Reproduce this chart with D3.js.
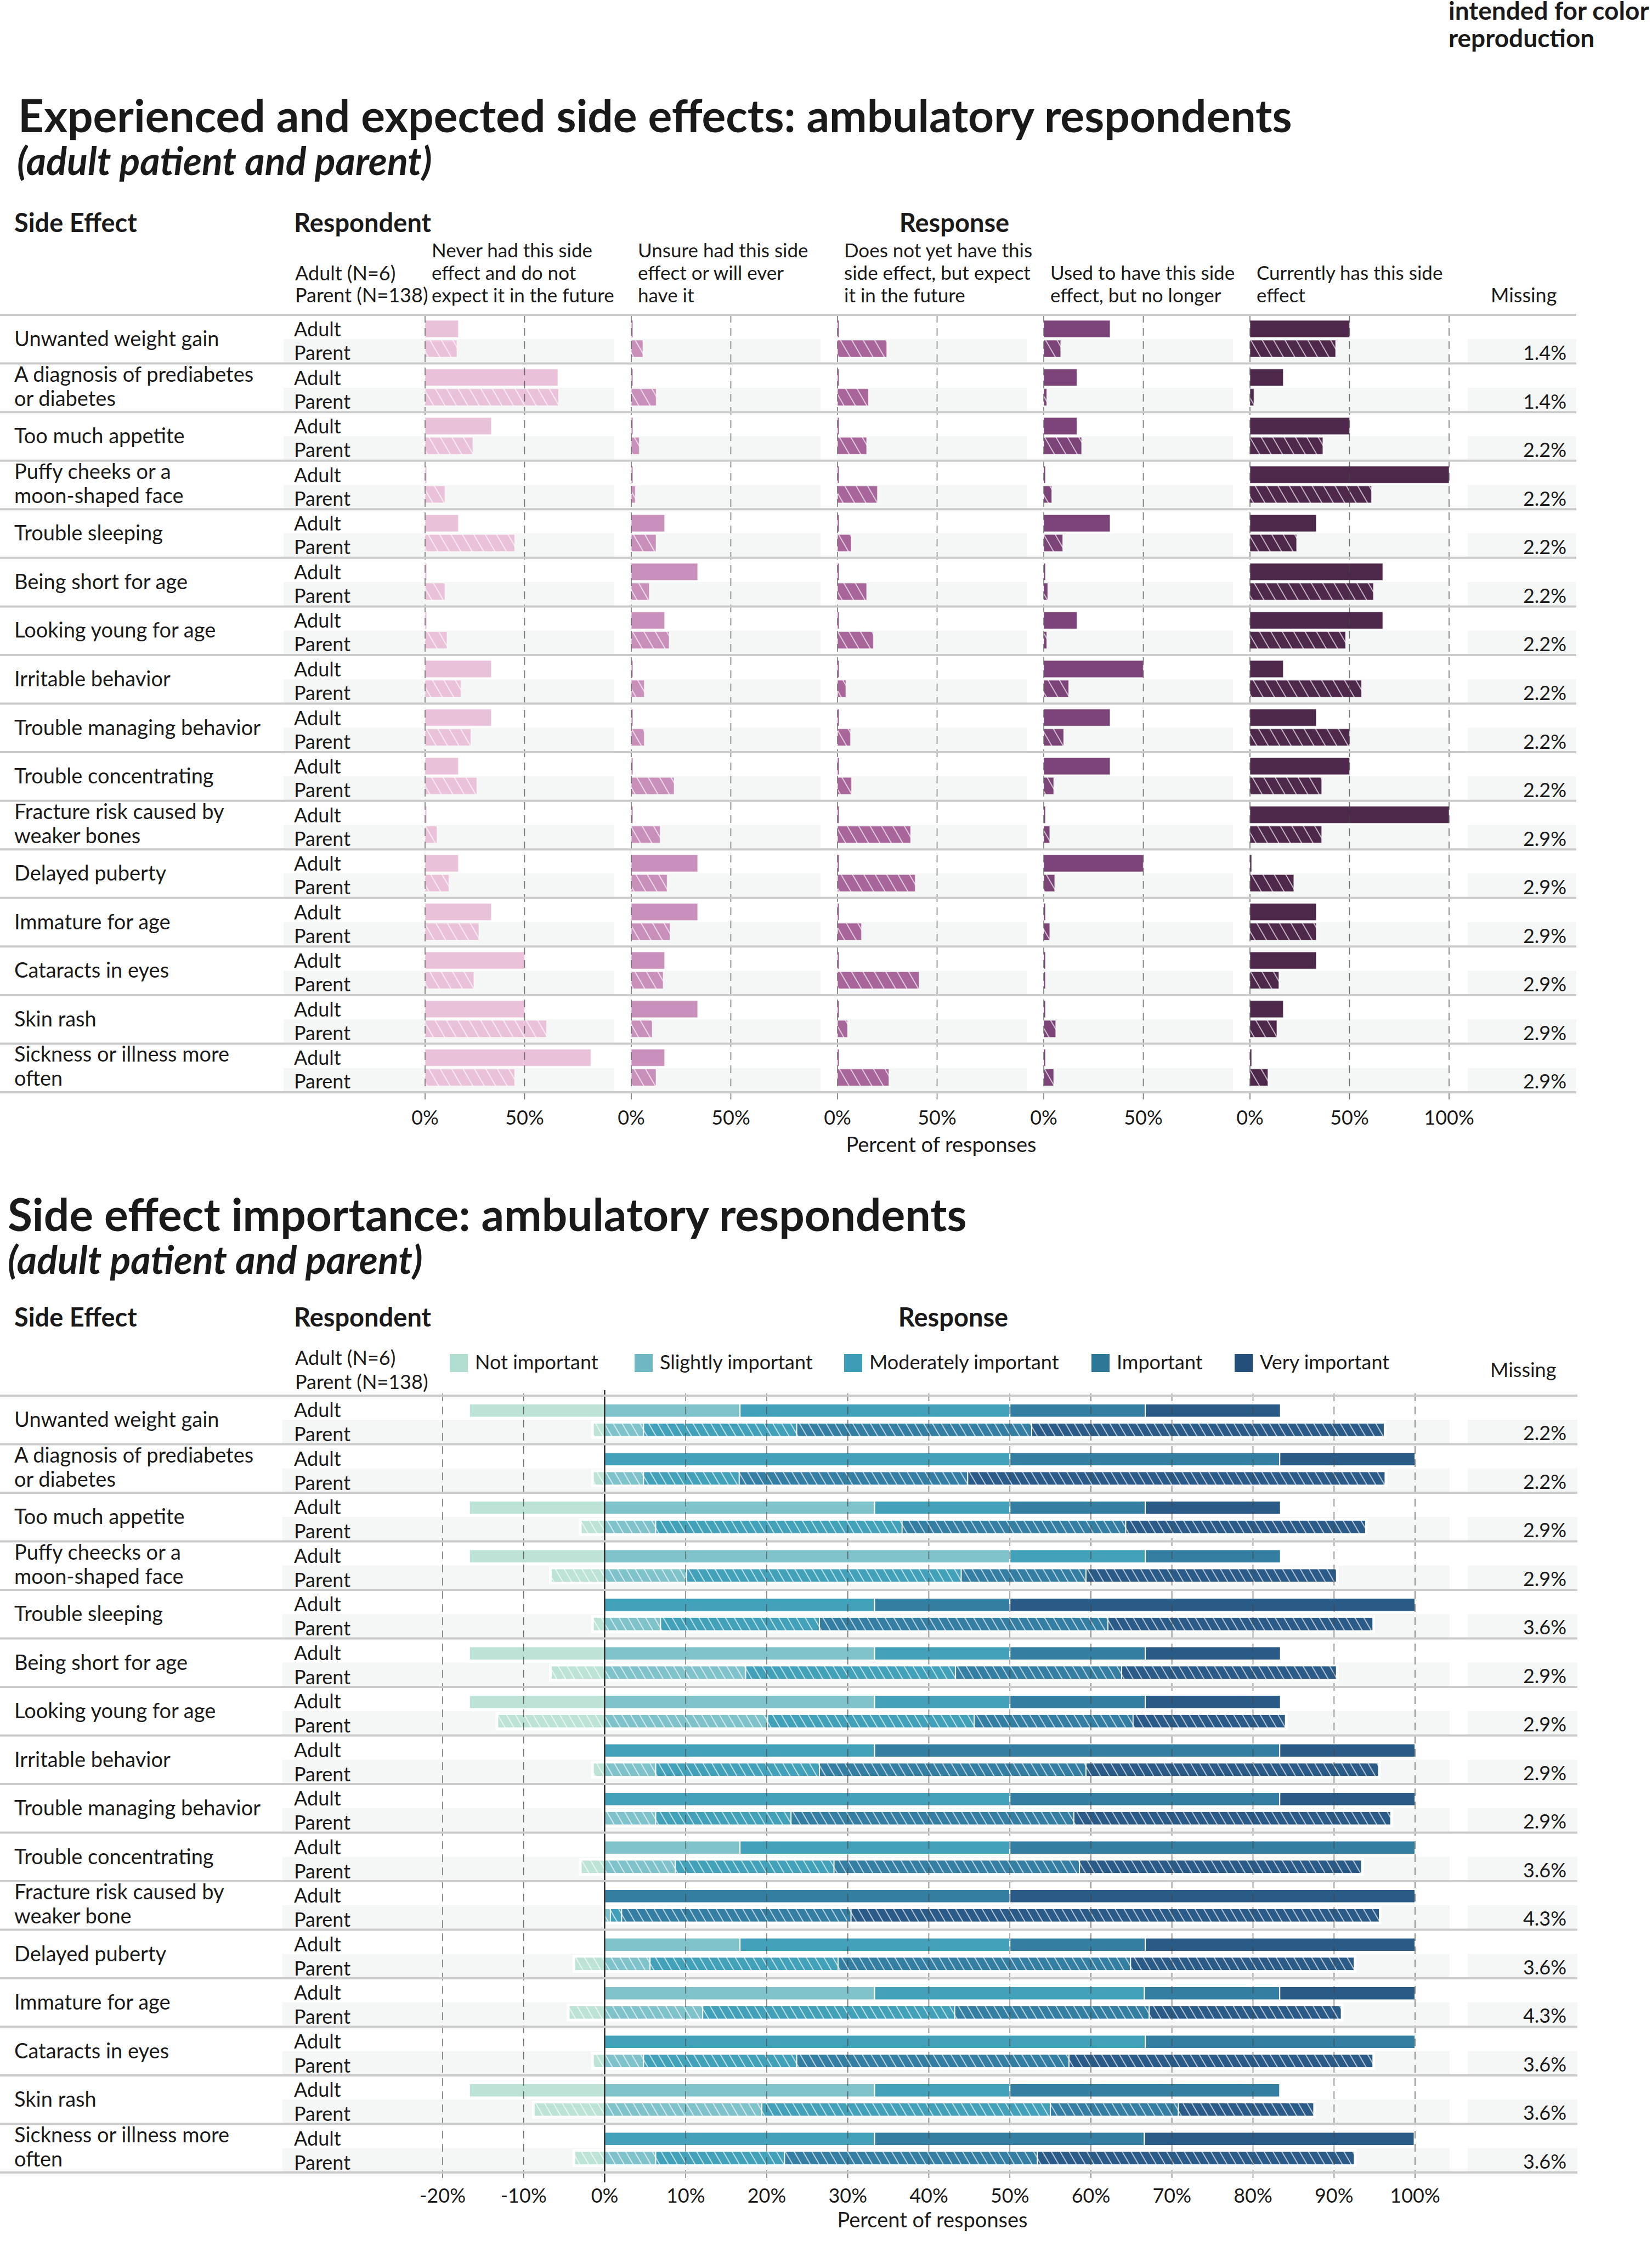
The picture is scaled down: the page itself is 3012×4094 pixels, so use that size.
<!DOCTYPE html>
<html><head><meta charset="utf-8">
<script src="https://cdn.jsdelivr.net/npm/d3@7"></script>
<style>
body{margin:0;background:#fff}
text{font-family:Lato,'Open Sans',sans-serif;fill:#1a1a1a}
</style>
</head><body>
<svg id="c" width="3012" height="4094"></svg>
<script>
// ---------------- DATA ----------------
const sideEffects1 = ["Unwanted weight gain","A diagnosis of prediabetes\nor diabetes","Too much appetite","Puffy cheeks or a\nmoon-shaped face","Trouble sleeping","Being short for age","Looking young for age","Irritable behavior","Trouble managing behavior","Trouble concentrating","Fracture risk caused by\nweaker bones","Delayed puberty","Immature for age","Cataracts in eyes","Skin rash","Sickness or illness more\noften"];
const sideEffects2 = ["Unwanted weight gain","A diagnosis of prediabetes\nor diabetes","Too much appetite","Puffy cheecks or a\nmoon-shaped face","Trouble sleeping","Being short for age","Looking young for age","Irritable behavior","Trouble managing behavior","Trouble concentrating","Fracture risk caused by\nweaker bone","Delayed puberty","Immature for age","Cataracts in eyes","Skin rash","Sickness or illness more\noften"];
const respondents = ["Adult","Parent"];
const respondentHeader = ["Adult (N=6)","Parent (N=138)"];
const responses1 = ["Never had this side\neffect and do not\nexpect it in the future","Unsure had this side\neffect or will ever\nhave it","Does not yet have this\nside effect, but expect\nit in the future","Used to have this side\neffect, but no longer","Currently has this side\neffect"];

const adultNever    = [0.167,0.667,0.333,0,0.167,0,0,0.333,0.333,0.167,0,0.167,0.333,0.5,0.5,0.833];
const parentNever   = [0.16,0.67,0.24,0.10,0.45,0.10,0.11,0.18,0.23,0.26,0.06,0.12,0.27,0.245,0.61,0.45];
const adultUnsure   = [0,0,0,0,0.167,0.333,0.167,0,0,0,0,0.333,0.333,0.167,0.333,0.167];
const parentUnsure  = [0.058,0.125,0.04,0.02,0.124,0.09,0.19,0.065,0.065,0.215,0.145,0.18,0.195,0.16,0.105,0.124];
const adultExpect   = [0,0,0,0,0,0,0,0,0,0,0,0,0,0,0,0];
const parentExpect  = [0.247,0.155,0.146,0.20,0.069,0.146,0.18,0.042,0.065,0.07,0.367,0.39,0.12,0.41,0.05,0.258];
const adultUsed     = [0.333,0.167,0.167,0,0.333,0,0.167,0.5,0.333,0.333,0,0.5,0,0,0,0];
const parentUsed    = [0.085,0.015,0.19,0.04,0.095,0.02,0.015,0.125,0.10,0.05,0.03,0.055,0.03,0,0.06,0.05];
const adultCurrent  = [0.5,0.167,0.5,1,0.333,0.667,0.667,0.167,0.333,0.5,1,0,0.333,0.333,0.167,0];
const parentCurrent = [0.43,0.02,0.366,0.61,0.234,0.62,0.48,0.56,0.5,0.36,0.36,0.22,0.333,0.145,0.135,0.09];
const missing1 = ["1.4%","1.4%","2.2%","2.2%","2.2%","2.2%","2.2%","2.2%","2.2%","2.2%","2.9%","2.9%","2.9%","2.9%","2.9%","2.9%"];
const ticks1 = [0,0.5];
const ticks1Last = [0,0.5,1];

const importance = ["Not important","Slightly important","Moderately important","Important","Very important"];
const adultNot       = [0.167,0,0.167,0.167,0,0.167,0.167,0,0,0,0,0,0,0,0.167,0];
const adultSlight    = [0.167,0,0.333,0.5,0,0.333,0.333,0,0,0.167,0,0.167,0.333,0,0.333,0];
const adultModerate  = [0.333,0.5,0.167,0.167,0.333,0.167,0.167,0.333,0.5,0.333,0,0.333,0.333,0.667,0.167,0.333];
const adultImportant = [0.167,0.333,0.167,0.167,0.167,0.167,0.167,0.5,0.333,0.5,0.5,0.167,0.167,0.333,0.333,0.333];
const adultVery      = [0.167,0.167,0.167,0,0.5,0.167,0.167,0.167,0.167,0,0.5,0.333,0.167,0,0,0.333];
const parentNot       = [0.014,0.014,0.029,0.066,0.014,0.066,0.132,0.014,0,0.029,0,0.037,0.044,0.014,0.087,0.037];
const parentSlight    = [0.048,0.048,0.063,0.101,0.069,0.174,0.201,0.063,0.063,0.087,0.007,0.056,0.121,0.048,0.194,0.063];
const parentModerate  = [0.189,0.118,0.304,0.339,0.196,0.259,0.255,0.202,0.167,0.196,0.014,0.232,0.311,0.189,0.356,0.159];
const parentImportant = [0.290,0.282,0.276,0.154,0.356,0.205,0.196,0.329,0.349,0.303,0.283,0.361,0.240,0.336,0.158,0.312];
const parentVery      = [0.435,0.515,0.296,0.309,0.327,0.265,0.188,0.361,0.391,0.348,0.652,0.276,0.237,0.375,0.167,0.391];
const missing2 = ["2.2%","2.2%","2.9%","2.9%","3.6%","2.9%","2.9%","2.9%","2.9%","3.6%","4.3%","3.6%","4.3%","3.6%","3.6%","3.6%"];
const ticks2 = [-0.2,-0.1,0,0.1,0.2,0.3,0.4,0.5,0.6,0.7,0.8,0.9,1.0];

// ---------------- STYLE ----------------
const purple = ["#e9c2da","#c98fbb","#a8659a","#7b4377","#4d284b"];
const teal = ["#bde3d6","#80c2ca","#43a0b9","#347fa1","#2a5b86"];
const tealLegend = ["#b2ded2","#6db8c3","#3d9cb6","#2e7796","#244f7b"];
const bandColor = "#f5f7f6";
const sepColor = "#cbcbcb";
const gridColor = "rgba(70,70,70,0.75)";
const hdrSize = 47, bodySize = 38, smallSize = 36, titleSize = 82, subSize = 70;

const svg = d3.select("#c");
svg.append("rect").attr("width",3012).attr("height",4094).attr("fill","#fff");
const defs = svg.append("defs");
function makePattern(id, color, sp){
  const p = defs.append("pattern").attr("id",id).attr("patternUnits","userSpaceOnUse")
    .attr("width",sp).attr("height",sp).attr("patternTransform","rotate(-30)");
  p.append("rect").attr("width",sp).attr("height",sp).attr("fill",color);
  p.append("line").attr("x1",sp/2).attr("x2",sp/2).attr("y1",-1).attr("y2",sp+1)
    .attr("stroke","#fff").attr("stroke-width",1.6).attr("stroke-opacity",0.8);
}
purple.forEach((c,i)=>makePattern("hp"+i,c,18));
teal.forEach((c,i)=>makePattern("ht"+i,c,14));

function multiText(g, str, x, y, lh){
  const t = g.append("text").attr("x",x).attr("y",y);
  str.split("\n").forEach((s,i)=>t.append("tspan").attr("x",x).attr("dy", i?lh:0).text(s));
  return t;
}

// top note
svg.append("text").attr("x",2641).attr("y",36).attr("font-size",46).attr("font-weight",700).text("intended for color");
svg.append("text").attr("x",2641).attr("y",86).attr("font-size",46).attr("font-weight",700).text("reproduction");

// ================= CHART 1 =================
const g1 = svg.append("g");
g1.append("text").attr("x",33).attr("y",241).attr("font-size",titleSize).attr("font-weight",700)
  .text("Experienced and expected side effects: ambulatory respondents");
g1.append("text").attr("x",31).attr("y",319).attr("font-size",subSize).attr("font-weight",700).attr("font-style","italic")
  .text("(adult patient and parent)");

const hdrY1 = 423;
g1.append("text").attr("x",26).attr("y",hdrY1).attr("font-size",hdrSize).attr("font-weight",700).text("Side Effect");
g1.append("text").attr("x",536).attr("y",hdrY1).attr("font-size",hdrSize).attr("font-weight",700).text("Respondent");
g1.append("text").attr("x",1740).attr("y",hdrY1).attr("font-size",hdrSize).attr("font-weight",700).attr("text-anchor","middle").text("Response");
g1.append("text").attr("x",538).attr("y",511).attr("font-size",smallSize).text(respondentHeader[0]);
g1.append("text").attr("x",538).attr("y",551).attr("font-size",smallSize).text(respondentHeader[1]);
g1.append("text").attr("x",2718).attr("y",551).attr("font-size",smallSize).text("Missing");

const panelOrigin = d3.scaleLinear().domain([0,4]).range([775,2279]);
const panelScale = k => d3.scaleLinear().domain([0,1]).range([panelOrigin(k), panelOrigin(k)+363]);
const rows1 = d3.scaleBand().domain(d3.range(sideEffects1.length)).range([574,1991]);
const panelVals = [[adultNever,parentNever],[adultUnsure,parentUnsure],[adultExpect,parentExpect],[adultUsed,parentUsed],[adultCurrent,parentCurrent]];

responses1.forEach((r,k)=>{
  const lines = r.split("\n");
  const x0 = panelOrigin(k)+12;
  lines.forEach((s,i)=>{
    g1.append("text").attr("x",x0).attr("y",551-(lines.length-1-i)*41).attr("font-size",35).text(s);
  });
});

// bands
sideEffects1.forEach((se,i)=>{
  const top = rows1(i);
  for(let k=0;k<5;k++){
    const x = panelScale(k);
    const x0 = k===0 ? 517 : x(0);
    const x1 = k===4 ? x(1) : x(0)+345;
    g1.append("rect").attr("x",x0).attr("y",top+44).attr("width",x1-x0).attr("height",43).attr("fill",bandColor);
  }
  g1.append("rect").attr("x",2676).attr("y",top+44).attr("width",198).attr("height",43).attr("fill",bandColor);
});

// bars
panelVals.forEach((pair,k)=>{
  const x = panelScale(k);
  pair.forEach((vals,ri)=>{
    g1.selectAll(null).data(vals).enter().append("rect")
      .attr("x",x(0))
      .attr("y",(d,i)=>rows1(i)+(ri===0?10:46))
      .attr("width",d=>Math.max(x(d)-x(0),3))
      .attr("height",31)
      .attr("fill",ri===0?purple[k]:`url(#hp${k})`)
      .attr("stroke","#fff").attr("stroke-opacity",0.45).attr("stroke-width",1.5);
  });
});

// gridlines & ticks
for(let k=0;k<5;k++){
  const x = panelScale(k);
  const tv = k===4 ? ticks1Last : ticks1;
  tv.forEach(t=>{
    g1.append("line").attr("x1",x(t)).attr("x2",x(t)).attr("y1",574).attr("y2",2013)
      .attr("stroke",gridColor).attr("stroke-width",1.6).attr("stroke-dasharray","14,10");
    g1.append("text").attr("x",x(t)).attr("y",2050).attr("font-size",smallSize).attr("text-anchor","middle")
      .text(Math.round(t*100)+"%");
  });
}
// separators
d3.range(sideEffects1.length+1).forEach(i=>{
  const y = i<sideEffects1.length ? rows1(i) : rows1.range()[1];
  g1.append("line").attr("x1",0).attr("x2",2874).attr("y1",y).attr("y2",y).attr("stroke",sepColor).attr("stroke-width",4);
});
// labels
sideEffects1.forEach((se,i)=>{
  const top = rows1(i);
  const lines = se.split("\n");
  if(lines.length===1) g1.append("text").attr("x",26).attr("y",top+57).attr("font-size",bodySize).text(se);
  else multiText(g1, se, 26, top+33, 44).attr("font-size",bodySize);
  g1.append("text").attr("x",536).attr("y",top+39).attr("font-size",smallSize).text(respondents[0]);
  g1.append("text").attr("x",536).attr("y",top+82).attr("font-size",smallSize).text(respondents[1]);
  g1.append("text").attr("x",2856).attr("y",top+82).attr("font-size",smallSize).attr("text-anchor","end").text(missing1[i]);
});
g1.append("text").attr("x",1716).attr("y",2100).attr("font-size",38).attr("text-anchor","middle").text("Percent of responses");

// ================= CHART 2 =================
const g2 = svg.append("g");
g2.append("text").attr("x",14).attr("y",2244).attr("font-size",titleSize).attr("font-weight",700)
  .text("Side effect importance: ambulatory respondents");
g2.append("text").attr("x",14).attr("y",2322).attr("font-size",subSize).attr("font-weight",700).attr("font-style","italic")
  .text("(adult patient and parent)");
const hdrY2 = 2418;
g2.append("text").attr("x",26).attr("y",hdrY2).attr("font-size",hdrSize).attr("font-weight",700).text("Side Effect");
g2.append("text").attr("x",536).attr("y",hdrY2).attr("font-size",hdrSize).attr("font-weight",700).text("Respondent");
g2.append("text").attr("x",1738).attr("y",hdrY2).attr("font-size",hdrSize).attr("font-weight",700).attr("text-anchor","middle").text("Response");
g2.append("text").attr("x",538).attr("y",2488).attr("font-size",smallSize).text(respondentHeader[0]);
g2.append("text").attr("x",538).attr("y",2532).attr("font-size",smallSize).text(respondentHeader[1]);
g2.append("text").attr("x",2717).attr("y",2510).attr("font-size",smallSize).text("Missing");

const legendX = [820,1157,1539,1990,2251];
importance.forEach((lab,i)=>{
  g2.append("rect").attr("x",legendX[i]).attr("y",2468).attr("width",33).attr("height",33).attr("fill",tealLegend[i]);
  g2.append("text").attr("x",legendX[i]+46).attr("y",2496).attr("font-size",smallSize).text(lab);
});

const x2 = d3.scaleLinear().domain([-0.2,1]).range([807,2580]);
const rows2 = d3.scaleBand().domain(d3.range(sideEffects2.length)).range([2544,3960]);
const adultSeries = [adultNot,adultSlight,adultModerate,adultImportant,adultVery];
const parentSeries = [parentNot,parentSlight,parentModerate,parentImportant,parentVery];

sideEffects2.forEach((se,i)=>{
  const top = rows2(i);
  g2.append("rect").attr("x",515).attr("y",top+44).attr("width",2643-515).attr("height",43).attr("fill",bandColor);
  g2.append("rect").attr("x",2676).attr("y",top+44).attr("width",200).attr("height",43).attr("fill",bandColor);
});

function stackRow(series, i){
  let start = -series[0][i];
  return series.map((s,k)=>{ const seg={k, x0:start, x1:start+s[i]}; start+=s[i]; return seg; });
}
sideEffects2.forEach((se,i)=>{
  const top = rows2(i);
  const aSeg = stackRow(adultSeries,i).filter(s=>s.x1-s.x0>0);
  g2.selectAll(null).data(aSeg).enter().append("rect")
    .attr("x",d=>x2(d.x0)).attr("y",top+15).attr("width",d=>x2(d.x1)-x2(d.x0)).attr("height",24.5)
    .attr("fill",d=>teal[d.k]).attr("stroke","#fff").attr("stroke-width",2);
  const pSeg = stackRow(parentSeries,i).filter(s=>s.x1-s.x0>0);
  const pMin = d3.min(pSeg,d=>d.x0), pMax = d3.max(pSeg,d=>d.x1);
  g2.append("rect").attr("x",x2(pMin)-4).attr("y",top+46).attr("width",x2(pMax)-x2(pMin)+8).attr("height",32.5).attr("fill","#fff");
  g2.selectAll(null).data(pSeg).enter().append("rect")
    .attr("x",d=>x2(d.x0)).attr("y",top+50).attr("width",d=>x2(d.x1)-x2(d.x0)).attr("height",24.5)
    .attr("fill",d=>`url(#ht${d.k})`).attr("stroke","#fff").attr("stroke-width",1.8);
});

ticks2.forEach(t=>{
  if(t!==0) g2.append("line").attr("x1",x2(t)).attr("x2",x2(t)).attr("y1",2540).attr("y2",3978)
      .attr("stroke",gridColor).attr("stroke-width",1.6).attr("stroke-dasharray","14,10");
  g2.append("text").attr("x",x2(t)).attr("y",4015).attr("font-size",smallSize).attr("text-anchor","middle")
    .text(Math.round(t*100)+"%");
});
g2.append("line").attr("x1",x2(0)).attr("x2",x2(0)).attr("y1",2534).attr("y2",3978).attr("stroke","#111").attr("stroke-width",2.2);

d3.range(sideEffects2.length+1).forEach(i=>{
  const y = i<sideEffects2.length ? rows2(i) : rows2.range()[1];
  g2.append("line").attr("x1",0).attr("x2",2876).attr("y1",y).attr("y2",y).attr("stroke",sepColor).attr("stroke-width",4);
});
sideEffects2.forEach((se,i)=>{
  const top = rows2(i);
  const lines = se.split("\n");
  if(lines.length===1) g2.append("text").attr("x",26).attr("y",top+57).attr("font-size",bodySize).text(se);
  else multiText(g2, se, 26, top+33, 44).attr("font-size",bodySize);
  g2.append("text").attr("x",536).attr("y",top+39).attr("font-size",smallSize).text(respondents[0]);
  g2.append("text").attr("x",536).attr("y",top+83).attr("font-size",smallSize).text(respondents[1]);
  g2.append("text").attr("x",2856).attr("y",top+81).attr("font-size",smallSize).attr("text-anchor","end").text(missing2[i]);
});
g2.append("text").attr("x",1700).attr("y",4060).attr("font-size",38).attr("text-anchor","middle").text("Percent of responses");
</script>
</body></html>
